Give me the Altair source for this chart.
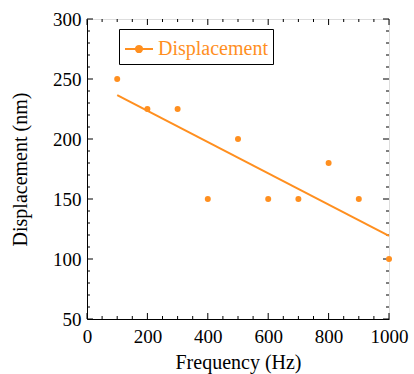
import altair as alt
import pandas as pd

# data
freq = [100, 200, 300, 400, 500, 600, 700, 800, 900, 1000]
disp = [250, 225, 225, 150, 200, 150, 150, 180, 150, 100]
series = ["Displacement"] * len(freq)

x_major = [0, 200, 400, 600, 800, 1000]
x_minor = [v for v in range(0, 1001, 50) if v not in x_major]
y_major = [50, 100, 150, 200, 250, 300]
y_minor = [v for v in range(50, 301, 10) if v not in y_major]

ORANGE = "#FF8F1F"
FONT = "Liberation Serif, Times New Roman, DejaVu Serif, serif"
W, H = 302, 300

df = pd.DataFrame({"x": freq, "y": disp, "series": series})

xs = alt.Scale(domain=[0, 1000], nice=False, zero=False)
ys = alt.Scale(domain=[50, 300], nice=False, zero=False)

xaxis = alt.Axis(values=x_major, format="d", ticks=False, labelFont=FONT, labelFontSize=19,
                 labelColor="black", labelPadding=8, title="Frequency (Hz)", titleFont=FONT,
                 titleFontSize=20, titleFontWeight="normal", titleColor="black", titlePadding=6,
                 domainColor="black", grid=False, labelFlush=False)
yaxis = alt.Axis(values=y_major, format="d", ticks=False, labelFont=FONT, labelFontSize=19,
                 labelColor="black", labelPadding=6, title="Displacement (nm)", titleFont=FONT,
                 titleFontSize=20, titleFontWeight="normal", titleColor="black", titlePadding=22,
                 domainColor="black", grid=False, labelFlush=False)

legend_path = "M-1,0H1M-0.22,0A0.22,0.22 0 1,1 0.22,0A0.22,0.22 0 1,1 -0.22,0Z"

points = alt.Chart(df).mark_point(filled=True, size=36, opacity=1).encode(
    x=alt.X("x:Q", scale=xs, axis=xaxis),
    y=alt.Y("y:Q", scale=ys, axis=yaxis),
    color=alt.Color("series:N", scale=alt.Scale(domain=["Displacement"], range=[ORANGE]),
                    legend=alt.Legend(title=None, orient="none", legendX=32, legendY=10,
                                      strokeColor="black", padding=5,
                                      symbolType=legend_path, symbolSize=784,
                                      symbolStrokeColor=ORANGE, symbolFillColor=ORANGE,
                                      symbolStrokeWidth=2, symbolOpacity=1,
                                      labelColor=ORANGE, labelFont=FONT, labelFontSize=20,
                                      labelOffset=4)),
)

line = alt.Chart(df).transform_regression("x", "y").mark_line(color=ORANGE, strokeWidth=2).encode(
    x=alt.X("x:Q", scale=xs, axis=xaxis),
    y=alt.Y("y:Q", scale=ys, axis=yaxis),
)


def xticks(vals, length):
    d = pd.DataFrame({"t": vals})
    b = alt.Chart(d).mark_rule(color="black", strokeWidth=1).encode(
        x=alt.X("t:Q", scale=xs, axis=xaxis), y=alt.value(H), y2=alt.value(H - length))
    t = alt.Chart(d).mark_rule(color="black", strokeWidth=1).encode(
        x=alt.X("t:Q", scale=xs, axis=xaxis), y=alt.value(0), y2=alt.value(length))
    return [b, t]


def yticks(vals, length):
    d = pd.DataFrame({"t": vals})
    l = alt.Chart(d).mark_rule(color="black", strokeWidth=1).encode(
        y=alt.Y("t:Q", scale=ys, axis=yaxis), x=alt.value(0), x2=alt.value(length))
    r = alt.Chart(d).mark_rule(color="black", strokeWidth=1).encode(
        y=alt.Y("t:Q", scale=ys, axis=yaxis), x=alt.value(W), x2=alt.value(W - length))
    return [l, r]


tick_layers = xticks(x_major, 6) + xticks(x_minor, 3) + yticks(y_major, 6) + yticks(y_minor, 3)

chart = alt.layer(*tick_layers, line, points).properties(
    width=W, height=H,
    autosize=alt.AutoSizeParams(type="none"),
    padding={"left": 87, "top": 19, "right": 25, "bottom": 55},
).configure_view(stroke="black", strokeWidth=1).configure(background="white")

chart.save("out.html", embed_options={"renderer": "svg", "actions": False})
